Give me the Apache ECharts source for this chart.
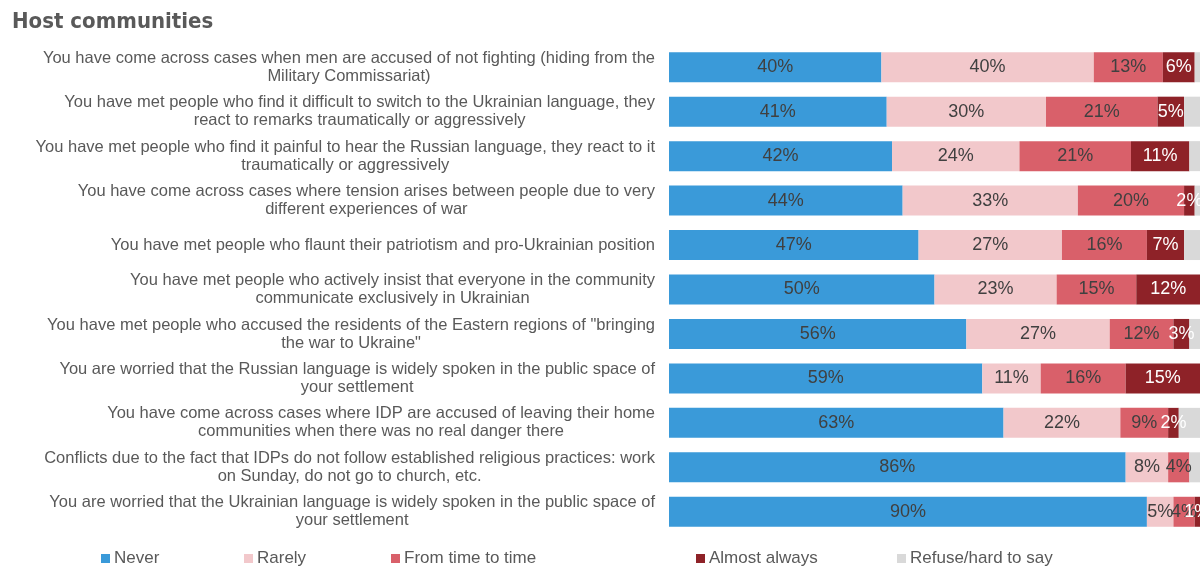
<!DOCTYPE html>
<html>
<head>
<meta charset="utf-8">
<script src="https://cdn.jsdelivr.net/npm/echarts@6/dist/echarts.min.js"></script>
<style>
  html, body { margin: 0; padding: 0; background: #ffffff; }
  #chart { width: 1200px; height: 568px; }
</style>
</head>
<body>
<div id="chart"></div>
<script>
// Statements, top to bottom
const categories = [
  'You have come across cases when men are accused of not fighting (hiding from the\nMilitary Commissariat)',
  'You have met people who find it difficult to switch to the Ukrainian language, they\nreact to remarks traumatically or aggressively',
  'You have met people who find it painful to hear the Russian language, they react to it\ntraumatically or aggressively',
  'You have come across cases where tension arises between people due to very\ndifferent experiences of war',
  'You have met people who flaunt their patriotism and pro-Ukrainian position',
  'You have met people who actively insist that everyone in the community\ncommunicate exclusively in Ukrainian',
  'You have met people who accused the residents of the Eastern regions of "bringing\nthe war to Ukraine"',
  'You are worried that the Russian language is widely spoken in the public space of\nyour settlement',
  'You have come across cases where IDP are accused of leaving their home\ncommunities when there was no real danger there',
  'Conflicts due to the fact that IDPs do not follow established religious practices: work\non Sunday, do not go to church, etc.',
  'You are worried that the Ukrainian language is widely spoken in the public space of\nyour settlement'
];

// Answer shares, %
const never        = [40, 41, 42, 44, 47, 50, 56, 59, 63, 86, 90];
const rarely       = [40, 30, 24, 33, 27, 23, 27, 11, 22, 8, 5];
const fromTime     = [13, 21, 21, 20, 16, 15, 12, 16, 9, 4, 4];
const almostAlways = [6, 5, 11, 2, 7, 12, 3, 15, 2, 0, 1];
const refuse       = [1, 3, 2, 1, 3, 0, 2, 0, 4, 2, 0];

const seriesNames = ['Never', 'Rarely', 'From time to time', 'Almost always', 'Refuse/hard to say'];
const seriesData = [never, rarely, fromTime, almostAlways, refuse];
const colors = ['#3a9ad9', '#f2c8cb', '#d9606a', '#8e2228', '#d9d9d9'];
const labelColors = ['#404040', '#404040', '#404040', '#ffffff', '#404040'];
const legendLeft = [101, 244, 391, 696, 897];

const FONT = '"Liberation Sans", Arial, sans-serif';

const series = seriesNames.map((name, i) => ({
  name: name,
  type: 'bar',
  stack: 'total',
  barWidth: 30,
  data: seriesData[i],
  itemStyle: { color: colors[i] },
  label: {
    show: i < 4,
    position: 'inside',
    color: labelColors[i],
    fontFamily: FONT,
    fontSize: 18,
    formatter: p => (p.value > 0 ? p.value + '%' : '')
  },
  emphasis: { disabled: true }
}));

const legends = seriesNames.map((name, i) => ({
  data: [name],
  left: legendLeft[i],
  top: 550,
  icon: 'rect',
  itemWidth: 9,
  itemHeight: 9,
  itemGap: 4,
  padding: 0,
  selectedMode: false,
  textStyle: { color: '#595959', fontSize: 17, fontFamily: FONT, padding: [0, 0, 0, -1] }
}));

const chart = echarts.init(document.getElementById('chart'), null, { renderer: 'canvas' });
chart.setOption({
  animation: false,
  backgroundColor: '#ffffff',
  color: colors,
  title: {
    text: 'Host communities',
    left: 12,
    top: 11,
    padding: 0,
    textStyle: {
      color: '#595959',
      fontSize: 22,
      fontWeight: 'bold',
      fontFamily: '"DejaVu Sans Condensed", "DejaVu Sans", Verdana, sans-serif'
    }
  },
  legend: legends,
  grid: { left: 669, right: -3, top: 45, bottom: 34, containLabel: false },
  xAxis: {
    type: 'value',
    min: 0,
    max: 100,
    show: false
  },
  yAxis: {
    type: 'category',
    inverse: true,
    data: categories,
    axisLine: { show: false },
    axisTick: { show: false },
    splitLine: { show: false },
    axisLabel: {
      margin: 14,
      align: 'right',
      color: '#595959',
      fontFamily: FONT,
      fontSize: 16.5,
      lineHeight: 18,
      formatter: v => v.split('\n').map(s => '{c|' + s + '}').join('\n'),
      rich: {
        c: { align: 'center', color: '#595959', fontFamily: FONT, fontSize: 16.5, lineHeight: 18 }
      }
    }
  },
  series: series
});
</script>
</body>
</html>
